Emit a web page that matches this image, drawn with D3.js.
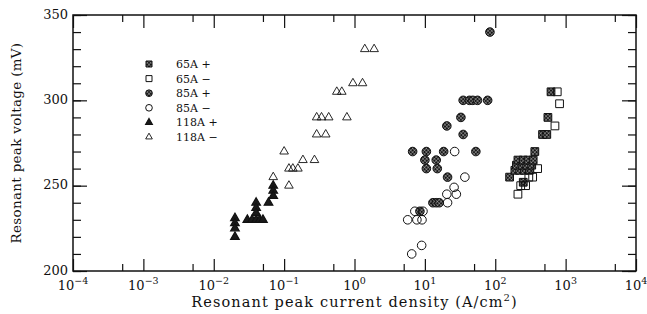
<!DOCTYPE html>
<html>
<head>
<meta charset="utf-8">
<script src="https://cdn.jsdelivr.net/npm/d3@7"></script>
<style>
body { margin: 0; background: #fff; }
svg { display: block; font-family: 'DejaVu Serif', serif; }
</style>
</head>
<body>
<svg></svg>
<script>
// each point: [current density (A/cm2), resonant peak voltage (mV)]
var data65Plus = [
    [160, 255], [190, 259], [222, 259], [260, 259], [305, 259],
    [200, 262], [240, 262], [280, 262], [330, 262],
    [210, 265], [250, 265], [293, 265], [346, 265],
    [365, 270], [470, 280], [540, 280], [560, 290], [620, 305], [250, 252]
]
var data65Minus = [
    [210, 245], [230, 250], [270, 250], [300, 255], [340, 255],
    [400, 260], [705, 285], [820, 298], [760, 305]
]
var data85Plus = [
    [6.7, 270], [10.5, 270], [18.5, 270], [53, 270],
    [10, 265], [14.5, 265], [10.5, 260], [15, 260], [21, 255],
    [13, 240], [14.5, 240], [16, 240], [8.5, 235],
    [20.5, 285], [32.5, 290], [35, 280],
    [35, 300], [43, 300], [48, 300], [56, 300], [78, 300], [84, 340]
]
var data85Minus = [
    [26.5, 270], [37, 255], [26, 249], [20.5, 245], [28, 245], [21, 240],
    [7.2, 235], [9.4, 235], [5.7, 230], [7.7, 230], [9.1, 230], [9, 215], [6.5, 210]
]
var data118Plus = [
    [0.02, 231], [0.02, 228], [0.02, 225], [0.02, 220],
    [0.03, 230], [0.035, 230], [0.04, 230], [0.045, 230], [0.05, 230],
    [0.04, 240], [0.04, 237], [0.04, 234], [0.06, 240],
    [0.07, 250], [0.07, 247], [0.07, 244]
]
var data118Minus = [
    [0.07, 255], [0.1, 270], [0.117, 260], [0.133, 260], [0.157, 260], [0.117, 250],
    [0.185, 265], [0.27, 265], [0.29, 280], [0.39, 280],
    [0.29, 290], [0.34, 290], [0.43, 290], [0.78, 290],
    [0.56, 305], [0.66, 305], [0.95, 310], [1.3, 310], [1.4, 330], [1.9, 330]
]

var seriesNames = ['65A +', '65A \u2212', '85A +', '85A \u2212', '118A +', '118A \u2212']
var xTickExps = [-4, -3, -2, -1, 0, 1, 2, 3, 4]
var yTickLabels = [200, 250, 300, 350]

drawChart()

function drawChart() {
    var svgWidth = 647, svgHeight = 314
    var left = 73, right = 636, top = 15, bottom = 271

    var svg = d3.select('svg')
        .attr('width', svgWidth)
        .attr('height', svgHeight)

    // crosshatch used for the "filled" markers
    var pat = svg.append('defs').append('pattern')
        .attr('id', 'hatch')
        .attr('width', 2.6).attr('height', 2.6)
        .attr('patternUnits', 'userSpaceOnUse')
        .attr('patternTransform', 'rotate(45)')
    pat.append('rect').attr('width', 2.6).attr('height', 2.6).attr('fill', '#151515')
    pat.append('line').attr('x1', 0).attr('y1', 0).attr('x2', 0).attr('y2', 2.6)
        .attr('stroke', '#fff').attr('stroke-width', 0.6)
    pat.append('line').attr('x1', 0).attr('y1', 0).attr('x2', 2.6).attr('y2', 0)
        .attr('stroke', '#fff').attr('stroke-width', 0.6)

    var x = d3.scaleLog().domain([1e-4, 1e4]).range([left, right])
    var y = d3.scaleLinear().domain([200, 350]).range([bottom, top])

    var majorX = xTickExps.map(function (e) { return Math.pow(10, e) })
    var minorX = xTickExps.slice(0, -1).map(function (e) { return 5 * Math.pow(10, e) })
    var minorY = d3.range(200, 351, 10)

    // ticks, all pointing into the plot
    function tickGroup(axis, tx, ty) {
        var g = svg.append('g')
            .attr('transform', 'translate(' + tx + ',' + ty + ')')
            .call(axis)
        g.select('.domain').remove()
        g.selectAll('line').attr('stroke', '#111').attr('stroke-width', 1.2)
        g.selectAll('text').remove()
    }
    tickGroup(d3.axisBottom(x).tickValues(majorX).tickSize(-12), 0, bottom)
    tickGroup(d3.axisBottom(x).tickValues(minorX).tickSize(-7), 0, bottom)
    tickGroup(d3.axisTop(x).tickValues(majorX).tickSize(-13), 0, top)
    tickGroup(d3.axisTop(x).tickValues(minorX).tickSize(-7), 0, top)
    tickGroup(d3.axisLeft(y).tickValues(minorY).tickSize(-8), left, 0)
    tickGroup(d3.axisLeft(y).tickValues(yTickLabels).tickSize(-14), left, 0)
    tickGroup(d3.axisRight(y).tickValues(minorY).tickSize(-8), right, 0)
    tickGroup(d3.axisRight(y).tickValues(yTickLabels).tickSize(-14), right, 0)

    // frame
    svg.append('rect')
        .attr('x', left).attr('y', top)
        .attr('width', right - left).attr('height', bottom - top)
        .attr('fill', 'none')
        .attr('stroke', '#111')
        .attr('stroke-width', 1.5)

    // x tick labels as 10^n
    var xl = svg.append('g').selectAll('text')
        .data(xTickExps)
        .enter().append('text')
        .attr('x', function (d) { return x(Math.pow(10, d)) })
        .attr('y', 290)
        .attr('text-anchor', 'middle')
        .attr('font-size', 13)
        .attr('fill', '#111')
    xl.append('tspan').text('10')
    xl.append('tspan')
        .attr('dy', -6)
        .attr('font-size', 9.5)
        .text(function (d) { return d < 0 ? '\u2212' + (-d) : d })

    svg.append('g').selectAll('text')
        .data(yTickLabels)
        .enter().append('text')
        .attr('x', 68)
        .attr('y', function (d) { return y(d) + 3.5 })
        .attr('text-anchor', 'end')
        .attr('font-size', 13)
        .attr('fill', '#111')
        .text(function (d) { return d })

    // axis titles
    var xt = svg.append('text')
        .attr('x', (left + right) / 2)
        .attr('y', 307)
        .attr('text-anchor', 'middle')
        .attr('font-size', 14.5)
        .attr('letter-spacing', 1.1)
        .attr('fill', '#111')
    xt.append('tspan').text('Resonant peak current density (A/cm')
    xt.append('tspan').attr('dy', -6).attr('font-size', 10).text('2')
    xt.append('tspan').attr('dy', 6).text(')')

    svg.append('text')
        .attr('transform', 'translate(21,' + (top + bottom) / 2 + ') rotate(-90)')
        .attr('text-anchor', 'middle')
        .attr('font-size', 13.5)
        .attr('letter-spacing', 0.3)
        .attr('fill', '#111')
        .text('Resonant peak voltage (mV)')

    var styles = [
        { data: data65Plus, type: d3.symbolSquare, size: 60, fill: 'url(#hatch)', sw: 1 },
        { data: data65Minus, type: d3.symbolSquare, size: 60, fill: 'none', sw: 1 },
        { data: data85Plus, type: d3.symbolCircle, size: 58, fill: 'url(#hatch)', sw: 1 },
        { data: data85Minus, type: d3.symbolCircle, size: 58, fill: 'none', sw: 1 },
        { data: data118Plus, type: d3.symbolTriangle, size: 32, fill: '#1a1a1a', sw: 1.2 },
        { data: data118Minus, type: d3.symbolTriangle, size: 32, fill: 'none', sw: 0.9 }
    ]

    // points
    styles.forEach(function (s) {
        svg.append('g').selectAll('path')
            .data(s.data)
            .enter().append('path')
            .attr('transform', function (d) { return 'translate(' + x(d[0]) + ',' + y(d[1]) + ')' })
            .attr('d', d3.symbol().type(s.type).size(s.size))
            .attr('fill', s.fill)
            .attr('stroke', '#111')
            .attr('stroke-width', s.sw)
    })

    // legend
    var leg = svg.append('g')
    styles.forEach(function (s, i) {
        var ly = 64 + i * 14.6
        leg.append('path')
            .attr('transform', 'translate(149,' + ly + ')')
            .attr('d', d3.symbol().type(s.type).size(s.size * 0.6))
            .attr('fill', s.fill)
            .attr('stroke', '#111')
            .attr('stroke-width', s.sw)
        leg.append('text')
            .attr('x', 176)
            .attr('y', ly + 4)
            .attr('font-size', 11)
            .attr('fill', '#111')
            .text(seriesNames[i])
    })
}
</script>
</body>
</html>
